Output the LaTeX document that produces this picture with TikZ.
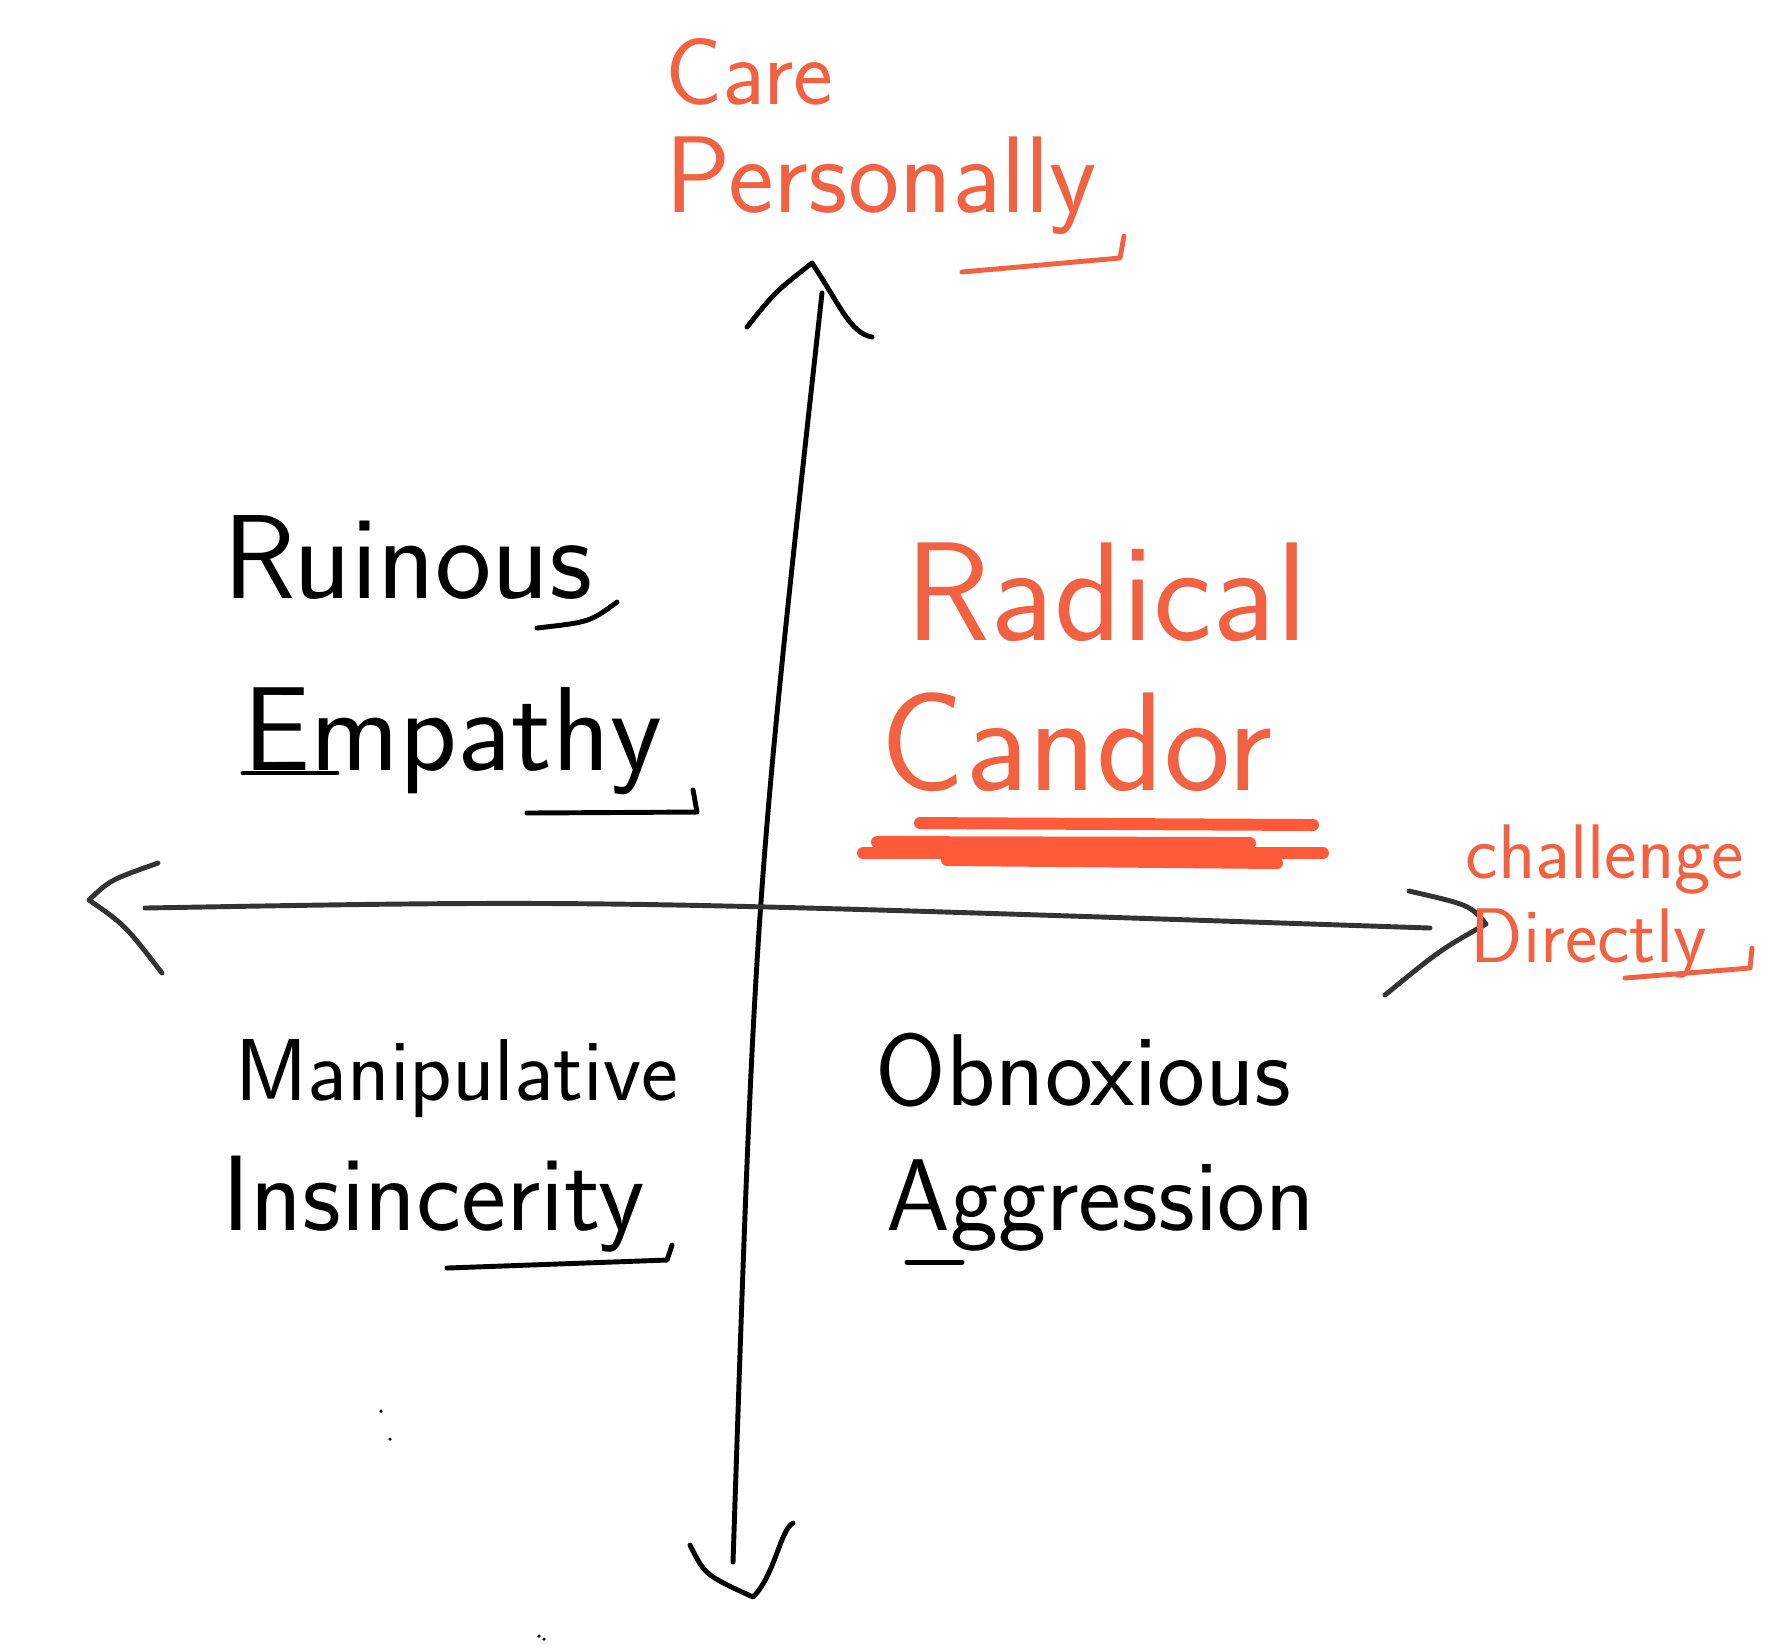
\documentclass[tikz,border=0pt]{standalone}
\usepackage{tikz}
\definecolor{penred}{RGB}{240,98,66}
\definecolor{smearred}{RGB}{255,90,58}

\begin{document}
\begin{tikzpicture}[x=0.01cm,y=-0.01cm,
        every node/.style={inner sep=0pt,anchor=base west},
        word/.style={font=\sffamily\fontsize{#1}{#1}\selectfont},
        redword/.style={word=#1,text=penred},
        pen/.style={line width=1.4pt,line cap=round,line join=round},
        redpen/.style={pen,draw=penred},
        smear/.style={line width=3.4pt,line cap=round,draw=smearred}]
            \useasboundingbox (0,0) rectangle (1789,1647);

            % axis ends
            \coordinate (t) at (812,263);
            \coordinate (ts) at (822,293);
            \coordinate (b) at (753,1597);
            \coordinate (bs) at (733,1562);
            \coordinate (l) at (89,900);
            \coordinate (ls) at (145,908);
            \coordinate (r) at (1486,924);
            \coordinate (rs) at (1430,928);

            \draw[pen] (bs) .. controls (755,900) .. (ts);
            \draw[pen,draw=black!80] (ls) .. controls (600,900) .. (rs);

            % hand drawn barbs
            \draw[pen] (747,327) .. controls (775,292) .. (t) .. controls (840,305) and (850,333) .. (872,337);
            \draw[pen] (690,1545) .. controls (705,1575) .. (b) .. controls (775,1575) and (780,1530) .. (793,1523);
            \draw[pen,draw=black!80] (158,863) .. controls (110,880) .. (l) .. controls (125,925) .. (162,973);
            \draw[pen,draw=black!80] (1409,891) .. controls (1470,905) .. (r) .. controls (1440,950) .. (1385,995);

            % axis labels
            \node[redword=27] (care) at (665,104) {Care};
            \node[redword=31] (pers) at (665,212) {Personally};
            \draw[redpen] (962,272) -- (1120,258) -- (1124,236);

            \node[redword=22] (chal) at (1465,878) {challenge};
            \node[redword=22] (dir) at (1470,962) {Directly};
            \draw[redpen] (1625,978) -- (1750,968) -- (1752,948);

            % quadrants
            \node[word=34] (ruin) at (223,598) {Ruinous};
            \draw[pen] (537,628) .. controls (590,622) .. (617,602);
            \node[word=34] (emp) at (243,770) {Empathy};
            \draw[pen] (243,773) -- (337,773);
            \draw[pen] (527,813) -- (697,812) -- (693,790);

            \node[redword=40] (rad) at (905,640) {Radical};
            \node[redword=40] (cand) at (880,790) {Candor};
            \draw[smear] (920,823) -- (1313,825);
            \draw[smear] (877,842) -- (1250,843);
            \draw[smear] (863,853) -- (1323,853);
            \draw[smear] (947,860) -- (1277,863);

            \node[word=25] (manip) at (235,1100) {Manipulative};
            \node[word=30.5] (insin) at (222,1230) {Insincerity};
            \draw[pen] (447,1268) -- (667,1260) -- (672,1245);

            \node[word=29] (obnox) at (875,1105) {Obnoxious};
            \node[word=29] (aggr) at (886,1230) {Aggression};
            \draw[pen] (907,1262) -- (962,1262);

            % stray dots
            \fill (381,1411) circle (0.5pt);
            \fill (390,1439) circle (0.5pt);
            \fill (539,1636) circle (0.5pt);
            \fill (544,1639) circle (0.5pt);
        \end{tikzpicture}
\end{document}
